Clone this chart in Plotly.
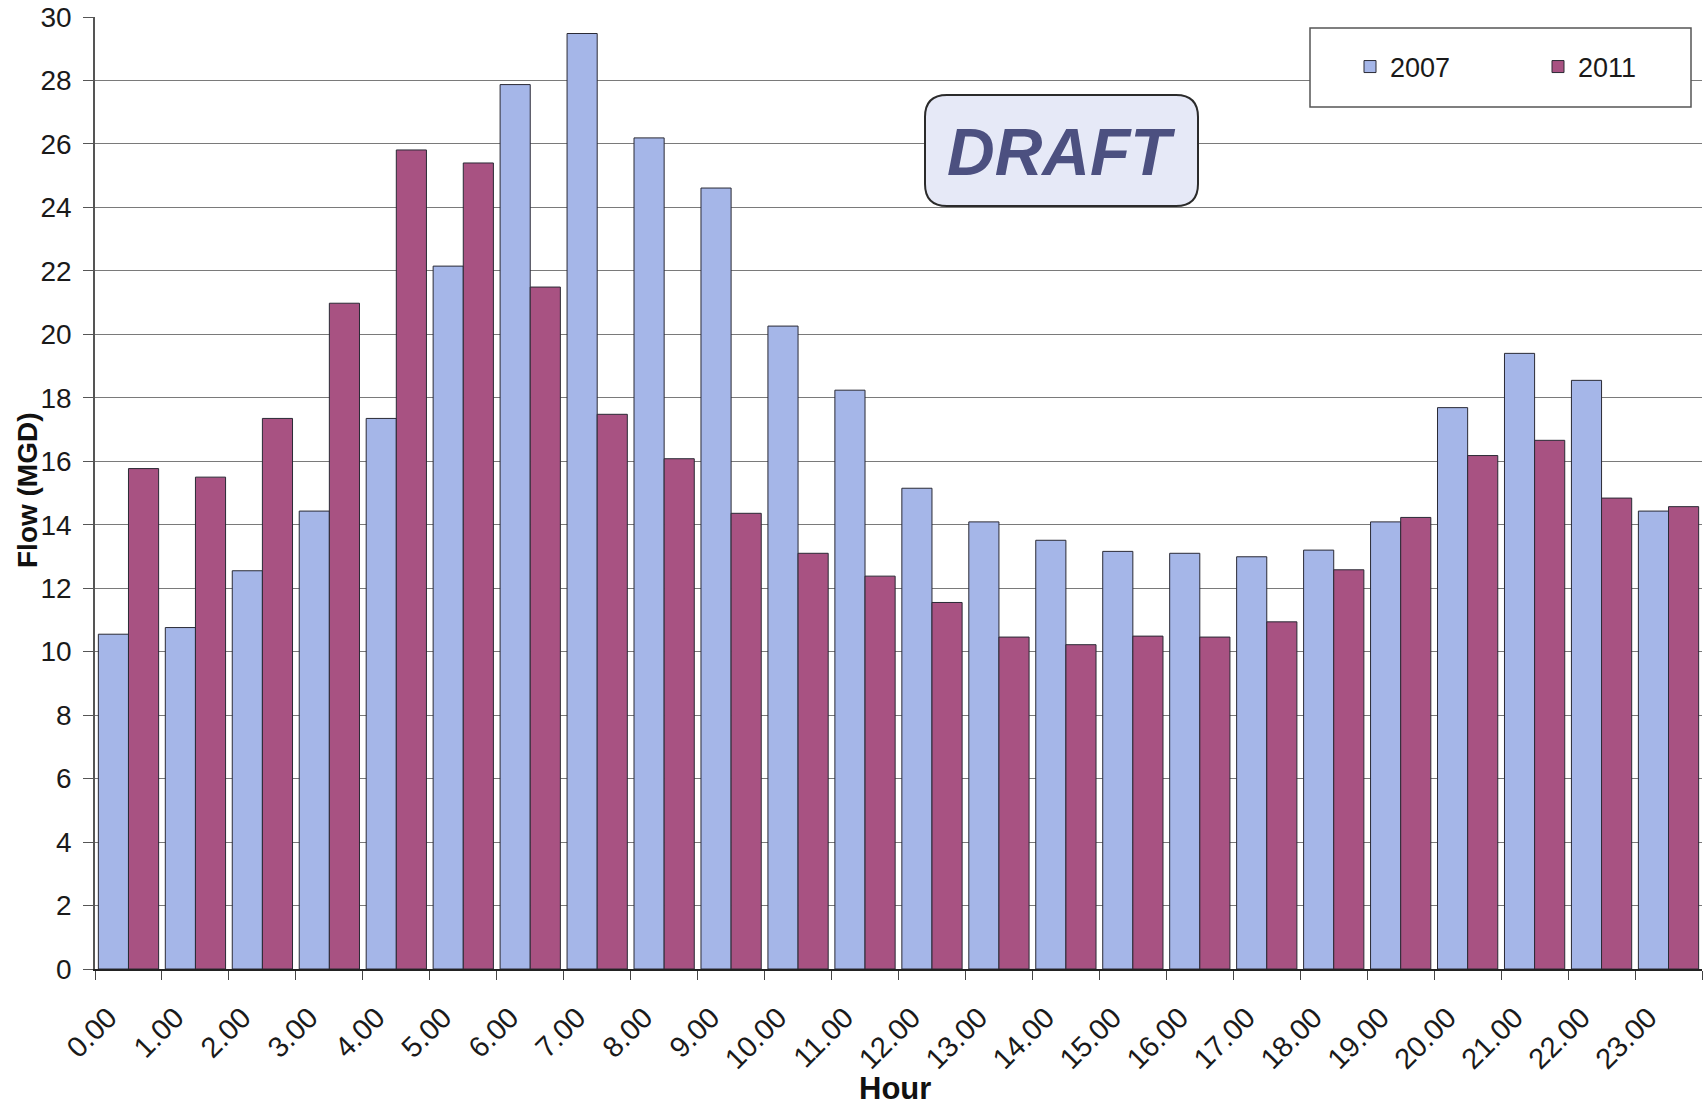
import plotly.graph_objects as go

# Hourly flow, two survey years
hours = [f"{h}.00" for h in range(24)]
flow_2007 = [10.55, 10.76, 12.55, 14.43, 17.35, 22.15, 27.87, 29.48, 26.19, 24.61,
             20.26, 18.24, 15.15, 14.09, 13.51, 13.16, 13.10, 12.99, 13.20, 14.09,
             17.69, 19.40, 18.55, 14.43]
flow_2011 = [15.77, 15.50, 17.35, 20.98, 25.81, 25.40, 21.49, 17.48, 16.08, 14.36,
             13.10, 12.38, 11.55, 10.46, 10.22, 10.49, 10.46, 10.94, 12.58, 14.23,
             16.18, 16.66, 14.84, 14.57]
y_ticks = list(range(0, 31, 2))

W, H = 1706, 1107
L, R, B = 95, 4, 138
PLOT_TOP = 17                      # pixel row of the plot's upper edge
PW = W - L - R
PAPER_H = H - B                    # top margin is zero; plot sits in a domain
Y_DOMAIN_TOP = (PAPER_H - PLOT_TOP) / PAPER_H


def px_x(x):
    return (x - L) / PW


def px_y(y):
    return (H - B - y) / PAPER_H


FONT = "Liberation Sans, Arial, sans-serif"

fig = go.Figure()
fig.add_trace(go.Bar(x=hours, y=flow_2007, name="2007",
                     marker=dict(color="#A5B6E8", line=dict(color="#2a2a35", width=1))))
fig.add_trace(go.Bar(x=hours, y=flow_2011, name="2011",
                     marker=dict(color="#A85282", line=dict(color="#2a2a35", width=1))))


def rr_path(x0, x1, y0, y1, r):
    """Rounded rectangle given in pixel positions, returned as a paper-space path."""
    X, Y = px_x, px_y
    return " ".join([
        f"M {X(x0 + r)} {Y(y0)}",
        f"L {X(x1 - r)} {Y(y0)}",
        f"Q {X(x1)} {Y(y0)} {X(x1)} {Y(y0 + r)}",
        f"L {X(x1)} {Y(y1 - r)}",
        f"Q {X(x1)} {Y(y1)} {X(x1 - r)} {Y(y1)}",
        f"L {X(x0 + r)} {Y(y1)}",
        f"Q {X(x0)} {Y(y1)} {X(x0)} {Y(y1 - r)}",
        f"L {X(x0)} {Y(y0 + r)}",
        f"Q {X(x0)} {Y(y0)} {X(x0 + r)} {Y(y0)}",
        "Z",
    ])


shapes = [
    # "DRAFT" stamp box
    dict(type="path", xref="paper", yref="paper", path=rr_path(925, 1198, 95, 206, 22),
         fillcolor="#E6E9F7", line=dict(color="#2b2b2b", width=2), layer="above"),
    # legend frame
    dict(type="rect", xref="paper", yref="paper",
         x0=px_x(1310), x1=px_x(1691), y0=px_y(107), y1=px_y(28),
         fillcolor="white", line=dict(color="#555555", width=1.5), layer="above"),
]

annotations = [
    dict(text="<b><i>DRAFT</i></b>", xref="paper", yref="paper",
         x=px_x(1061), y=px_y(152), xanchor="center", yanchor="middle", showarrow=False,
         font=dict(family=FONT, size=66, color="#4C5080")),
    dict(text="<b>Flow (MGD)</b>", xref="paper", yref="paper",
         x=px_x(27), y=px_y(490), xanchor="center", yanchor="middle", textangle=-90,
         showarrow=False, font=dict(family=FONT, size=28, color="#111111")),
    dict(text="<b>Hour</b>", xref="paper", yref="paper",
         x=px_x(895), y=px_y(1088), xanchor="center", yanchor="middle",
         showarrow=False, font=dict(family=FONT, size=31, color="#111111")),
]

fig.update_layout(
    width=W, height=H,
    margin=dict(l=L, r=R, t=0, b=B, autoexpand=False),
    paper_bgcolor="white", plot_bgcolor="white",
    barmode="group", bargap=0.1, bargroupgap=0,
    font=dict(family=FONT, size=26, color="#1a1a1a"),
    shapes=shapes, annotations=annotations,
    legend=dict(orientation="h", x=px_x(1350), y=px_y(67), xanchor="left", yanchor="middle",
                bgcolor="rgba(0,0,0,0)", font=dict(family=FONT, size=27, color="#1a1a1a"),
                entrywidth=143, entrywidthmode="pixels", itemwidth=30),
    xaxis=dict(type="category", tickangle=-45, tickson="boundaries", ticks="outside",
               ticklen=9, tickcolor="#444", showline=True, linecolor="#222", linewidth=2,
               showgrid=False, ticklabelstandoff=18, ticklabelshift=-20,
               tickfont=dict(size=29, color="#1a1a1a")),
    yaxis=dict(range=[0, 30], tickvals=y_ticks, ticks="outside", ticklen=10, tickcolor="#555",
               domain=[0, Y_DOMAIN_TOP], ticklabeloverflow="allow",
               showline=True, linecolor="#555", linewidth=1.5, showgrid=True,
               gridcolor="#7a7a7a", gridwidth=1.2, zeroline=False,
               ticklabelstandoff=6, tickfont=dict(size=28, color="#1a1a1a")),
)

fig.write_html("out.html")
